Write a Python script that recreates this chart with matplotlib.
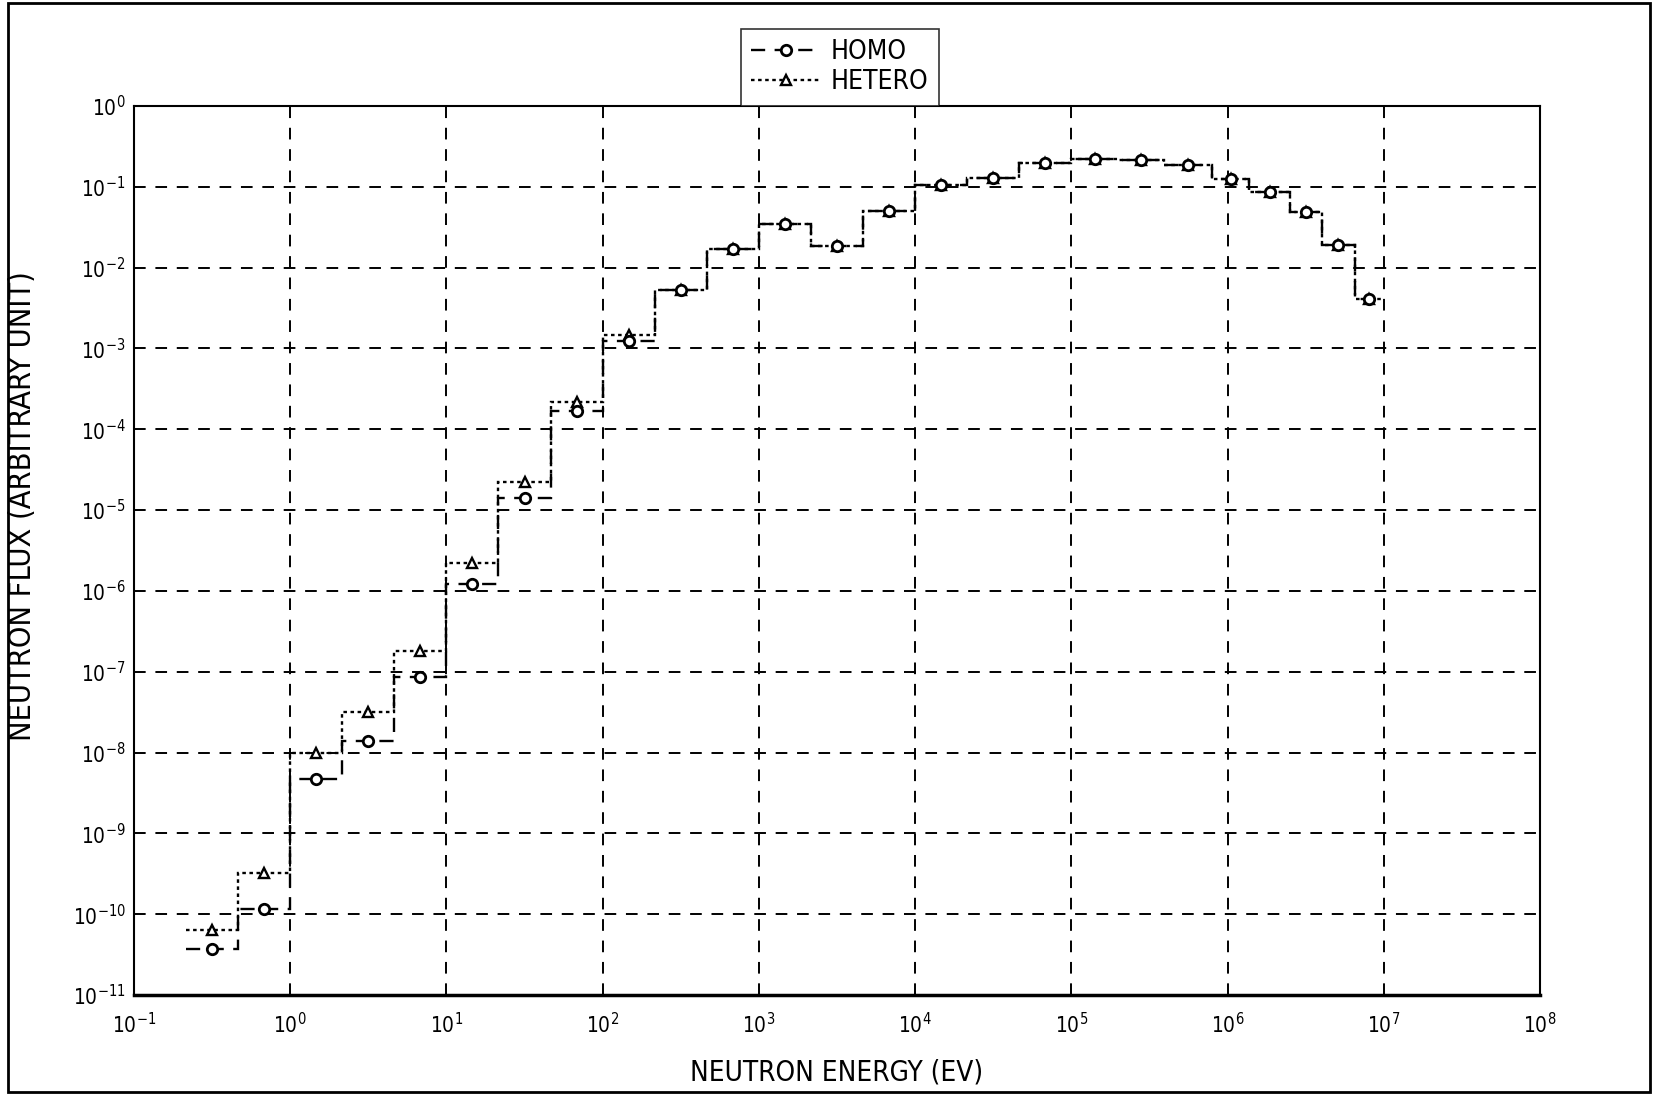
import numpy as np
import matplotlib
matplotlib.use("Agg")
import matplotlib.pyplot as plt
import matplotlib.patches as patches
from matplotlib.lines import Line2D

plt.rcParams['font.family'] = ['DejaVu Sans']
plt.rcParams['font.stretch'] = 'condensed'
plt.rcParams['mathtext.default'] = 'regular'

# group boundaries (eV)
edges = [0.215, 0.464, 1.0, 2.15, 4.64, 10.0, 21.5, 46.4, 100.0, 215.0, 464.0,
         1.0e3, 2.15e3, 4.64e3, 1.0e4, 2.15e4, 4.64e4, 1.0e5, 2.0e5, 3.9e5,
         8.0e5, 1.38e6, 2.5e6, 4.0e6, 6.5e6, 1.0e7]

homo = [3.7e-11, 1.15e-10, 4.7e-9, 1.4e-8, 8.5e-8, 1.21e-6, 1.39e-5, 1.68e-4,
        1.24e-3, 5.3e-3, 0.0168, 0.035, 0.0187, 0.050, 0.105, 0.128, 0.196,
        0.218, 0.214, 0.185, 0.125, 0.086, 0.049, 0.019, 0.0041]

hetero = [6.4e-11, 3.2e-10, 1.0e-8, 3.2e-8, 1.82e-7, 2.24e-6, 2.2e-5, 2.2e-4,
          1.46e-3, 5.3e-3, 0.0168, 0.035, 0.0187, 0.050, 0.105, 0.128, 0.196,
          0.218, 0.214, 0.185, 0.125, 0.086, 0.049, 0.019, 0.0041]

xticks = [10.0 ** k for k in range(-1, 9)]
yticks = [10.0 ** k for k in range(-11, 1)]

fig = plt.figure(figsize=(16.57, 10.95), dpi=100)
ax = fig.add_axes([0.0809, 0.0913, 0.8485, 0.812])

e = np.array(edges)
mid = np.sqrt(e[:-1] * e[1:])

dash_homo = (0, (6, 4))
dot_het = (0, (1.5, 1.5))

ax.stairs(hetero, edges, color='black', linestyle=dot_het, linewidth=1.7, baseline=None)
ax.stairs(homo, edges, color='black', linestyle=dash_homo, linewidth=1.7, baseline=None)
ax.plot(mid, hetero, linestyle='none', marker='^', markersize=6.5, markerfacecolor='white',
        markeredgecolor='black', markeredgewidth=1.7)
ax.plot(mid, homo, linestyle='none', marker='o', markersize=7.5, markerfacecolor='white',
        markeredgecolor='black', markeredgewidth=2)

ax.set_xscale('log')
ax.set_yscale('log')
ax.set_xlim(1e-1, 1e8)
ax.set_ylim(1e-11, 1e0)
ax.set_xticks(xticks)
ax.set_yticks(yticks)
ax.set_xticklabels([f'$10^{{{k}}}$' for k in range(-1, 9)])
ax.set_yticklabels([f'$10^{{{k}}}$' for k in range(-11, 1)])
ax.minorticks_off()
ax.tick_params(length=0, labelsize=15)
ax.tick_params(axis='x', pad=12)
ax.tick_params(axis='y', pad=6)
ax.grid(True, color='black', linestyle=(0, (6, 5)), linewidth=1.4)
for s in ax.spines.values():
    s.set_linewidth(1.5)
ax.spines['bottom'].set_linewidth(2.5)

ax.set_xlabel('NEUTRON ENERGY (EV)', fontsize=20)
ax.xaxis.set_label_coords(0.5, -0.071)
ax.set_ylabel('NEUTRON FLUX (ARBITRARY UNIT)', fontsize=22)
ax.yaxis.set_label_coords(-0.069, 0.55)

handles = [
    Line2D([], [], color='black', linestyle=dash_homo, linewidth=1.7, marker='o', markersize=7.5,
           markerfacecolor='white', markeredgewidth=2),
    Line2D([], [], color='black', linestyle=dot_het, linewidth=1.7, marker='^', markersize=6.5,
           markerfacecolor='white', markeredgewidth=1.7),
]
leg = ax.legend(handles, ['HOMO', 'HETERO'], loc='lower center', bbox_to_anchor=(0.502, 1.0),
                borderaxespad=0, fancybox=False, edgecolor='black', fontsize=19,
                handlelength=2.6, labelspacing=0.15, borderpad=0.4, handletextpad=0.4)
leg.get_frame().set_linewidth(1.2)

fig.patches.append(patches.Rectangle((0.005, 0.003), 0.991, 0.994, transform=fig.transFigure,
                                     fill=False, edgecolor='black', linewidth=2))

fig.savefig('out.png', dpi=100)
